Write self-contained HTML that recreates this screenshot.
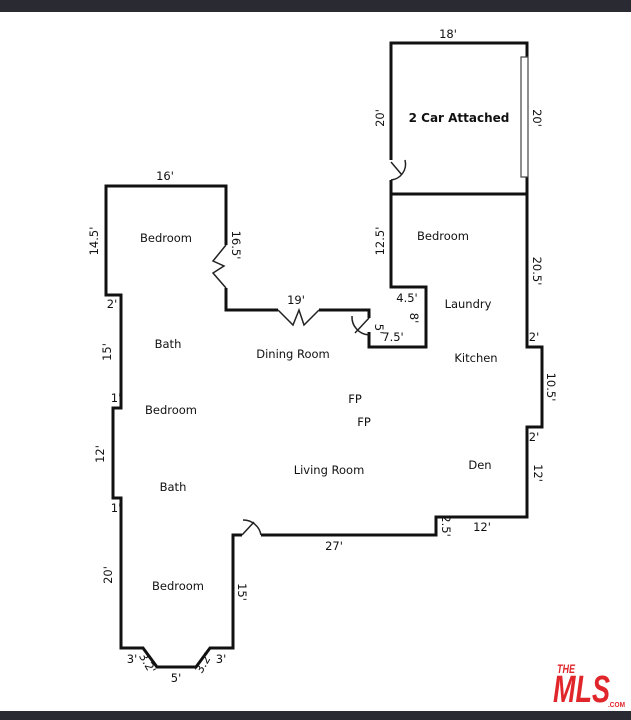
<!DOCTYPE html>
<html><head><meta charset="utf-8"><style>
body{margin:0;width:631px;height:720px;background:#fff;overflow:hidden}
svg{display:block}
text{font-family:"DejaVu Sans","Liberation Sans",sans-serif;font-size:11.5px;fill:#111}
</style></head><body>
<svg width="631" height="720" viewBox="0 0 631 720">
<rect x="0" y="0" width="631" height="12" fill="#2a2b32"/>
<g fill="none" stroke="#111" stroke-width="3" stroke-linejoin="miter">
<polyline points="391,160 391,43 527,43 527,57"/>
<polyline points="527,177 527,194"/>
<line x1="391" y1="194" x2="527" y2="194"/>
<polyline points="391,180 391,287 426,287 426,347 369,347 369,332"/>
<polyline points="369,318 369,310 319,310"/>
<polyline points="278,310 226,310 226,288"/>
<polyline points="226,245 226,186 106,186 106,295 121,295 121,408 113,408 113,498 121,498 121,648 143,648 157,667 196,667 210,648 233,648 233,535 242,535"/>
<polyline points="261,535 436,535 436,517 527,517 527,427 542,427 542,347 527,347 527,194"/>
</g>
<g fill="none" stroke="#222" stroke-width="1.5">
<polyline points="226,245 213,261 224,266 213,273 226,288"/>
<polyline points="278,310 293,325 299,310 304,325 319,310"/>
<line x1="369" y1="318" x2="355" y2="333"/>
<path d="M352,316 A18,18 0 0 0 369,335"/>
<line x1="391" y1="162" x2="402" y2="175"/>
<path d="M405,160 A16,16 0 0 1 391,180"/>
<line x1="242" y1="535" x2="254" y2="522"/>
<path d="M243,520 A18,18 0 0 1 261,535"/>
</g>
<rect x="521" y="57" width="7" height="120" fill="#fff" stroke="#444" stroke-width="1.2"/>
<text x="448" y="38" text-anchor="middle">18'</text>
<text x="459" y="122" text-anchor="middle" style="font-weight:bold;font-size:12px">2 Car Attached</text>
<text transform="translate(384,118) rotate(-90)" text-anchor="middle">20'</text>
<text transform="translate(533,118) rotate(90)" text-anchor="middle">20'</text>
<text x="443" y="240" text-anchor="middle">Bedroom</text>
<text transform="translate(384,241) rotate(-90)" text-anchor="middle">12.5'</text>
<text transform="translate(533,271) rotate(90)" text-anchor="middle">20.5'</text>
<text x="407" y="302" text-anchor="middle">4.5'</text>
<text transform="translate(410,318) rotate(90)" text-anchor="middle">8'</text>
<text x="393" y="341" text-anchor="middle">7.5'</text>
<text transform="translate(375,329) rotate(90)" text-anchor="middle">5'</text>
<text x="468" y="308" text-anchor="middle">Laundry</text>
<text x="476" y="362" text-anchor="middle">Kitchen</text>
<text x="534" y="341" text-anchor="middle">2'</text>
<text transform="translate(547,387) rotate(90)" text-anchor="middle">10.5'</text>
<text x="534" y="441" text-anchor="middle">2'</text>
<text transform="translate(534,473) rotate(90)" text-anchor="middle">12'</text>
<text x="480" y="469" text-anchor="middle">Den</text>
<text x="482" y="531" text-anchor="middle">12'</text>
<text transform="translate(442,526) rotate(90)" text-anchor="middle">2.5'</text>
<text x="334" y="550" text-anchor="middle">27'</text>
<text transform="translate(238,592) rotate(90)" text-anchor="middle">15'</text>
<text x="178" y="590" text-anchor="middle">Bedroom</text>
<text x="176" y="682" text-anchor="middle">5'</text>
<text x="132" y="663" text-anchor="middle">3'</text>
<text transform="translate(144,665) rotate(60)" text-anchor="middle">3.2'</text>
<text transform="translate(207,665) rotate(-60)" text-anchor="middle">3.2'</text>
<text x="221" y="663" text-anchor="middle">3'</text>
<text transform="translate(112,575) rotate(-90)" text-anchor="middle">20'</text>
<text x="116" y="512" text-anchor="middle">1'</text>
<text x="173" y="491" text-anchor="middle">Bath</text>
<text x="329" y="474" text-anchor="middle">Living Room</text>
<text transform="translate(104,454) rotate(-90)" text-anchor="middle">12'</text>
<text x="116" y="402" text-anchor="middle">1'</text>
<text x="171" y="414" text-anchor="middle">Bedroom</text>
<text x="355" y="403" text-anchor="middle">FP</text>
<text x="364" y="426" text-anchor="middle">FP</text>
<text transform="translate(111,352) rotate(-90)" text-anchor="middle">15'</text>
<text x="168" y="348" text-anchor="middle">Bath</text>
<text x="293" y="358" text-anchor="middle">Dining Room</text>
<text x="296" y="304" text-anchor="middle">19'</text>
<text x="112" y="308" text-anchor="middle">2'</text>
<text transform="translate(98,241) rotate(-90)" text-anchor="middle">14.5'</text>
<text x="166" y="242" text-anchor="middle">Bedroom</text>
<text transform="translate(232,245) rotate(90)" text-anchor="middle">16.5'</text>
<text x="165" y="180" text-anchor="middle">16'</text>
<text x="557" y="673" textLength="18" lengthAdjust="spacingAndGlyphs" style="font-family:'Liberation Sans',sans-serif;font-size:12px;fill:#e0262b;font-weight:bold;font-style:italic">THE</text>
<text x="553" y="702" textLength="57" lengthAdjust="spacingAndGlyphs" style="font-family:'Liberation Sans',sans-serif;font-size:38px;fill:#e0262b;font-weight:bold;font-style:italic">MLS</text>
<text x="608" y="707" textLength="17" lengthAdjust="spacingAndGlyphs" style="font-family:'Liberation Sans',sans-serif;font-size:7px;fill:#e0262b;font-weight:bold">.COM</text>
<rect x="0" y="711" width="631" height="9" fill="#2a2b32"/>
</svg>
</body></html>
